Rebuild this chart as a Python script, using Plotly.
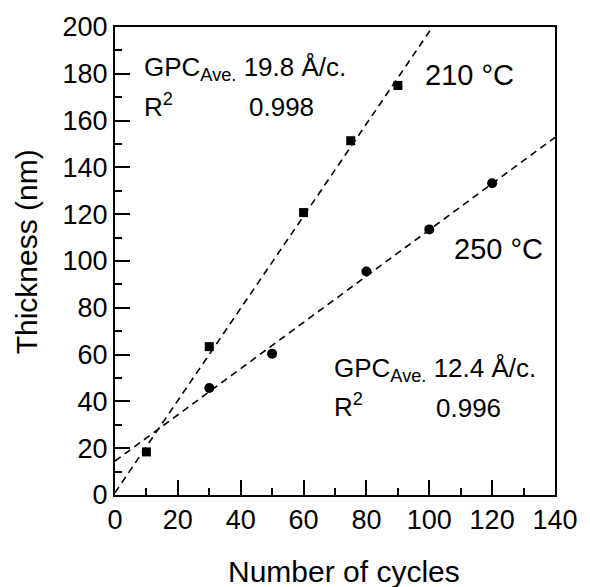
import plotly.graph_objects as go

# Data
cycles_210 = [10, 30, 60, 75, 90]
thick_210 = [18.4, 63.4, 120.7, 151.4, 175.0]
cycles_250 = [30, 50, 80, 100, 120]
thick_250 = [45.7, 60.4, 95.5, 113.5, 133.2]

# Linear fits (slope nm/cycle, intercept nm) as drawn
fit_210 = (1.97, 1.0)
fit_250 = (0.988, 14.5)
fit_x = [0, 140]

x_ticks = [0, 20, 40, 60, 80, 100, 120, 140]
y_ticks = [0, 20, 40, 60, 80, 100, 120, 140, 160, 180, 200]

FONT = "Liberation Sans, Arial, sans-serif"

fig = go.Figure()

for (m, b) in (fit_210, fit_250):
    fig.add_trace(go.Scatter(
        x=fit_x, y=[m * xx + b for xx in fit_x], mode="lines",
        line=dict(color="black", width=1.6, dash="7px,5px"),
        showlegend=False, hoverinfo="skip"))

fig.add_trace(go.Scatter(x=cycles_210, y=thick_210, mode="markers",
                         marker=dict(symbol="square", size=9, color="black"),
                         showlegend=False))
fig.add_trace(go.Scatter(x=cycles_250, y=thick_250, mode="markers",
                         marker=dict(symbol="circle", size=10, color="black"),
                         showlegend=False))

axis_common = dict(
    showline=True, linecolor="black", linewidth=2, mirror=True,
    ticks="inside", ticklen=15, tickwidth=2, tickcolor="black",
    showgrid=False, zeroline=False,
    tickfont=dict(family=FONT, size=27, color="black"),
    minor=dict(ticks="inside", ticklen=7, tickwidth=2, tickcolor="black", showgrid=False),
)

fig.update_xaxes(range=[0, 140], tickvals=x_ticks, minor_dtick=10, **axis_common)
fig.update_yaxes(range=[0, 200], tickvals=y_ticks, minor_dtick=10, **axis_common)

# paper coordinates from pixel positions (plot area x 115-564, y 24-495)
def px(xp):
    return (xp - 115) / 449
def py(yp):
    return (495 - yp) / 471

def ann(text, x, y, size, xanchor="left", angle=0):
    fig.add_annotation(text=text, x=x, y=y, xref="paper", yref="paper",
                       xanchor=xanchor, yanchor="middle", showarrow=False,
                       textangle=angle,
                       font=dict(family=FONT, size=size, color="black"))

# axis titles
ann("Number of cycles", px(349), py(572), 30, xanchor="center")
ann("Thickness (nm)", px(25), py(250), 30, xanchor="center", angle=-90)

ann("GPC<sub>Ave.</sub> 19.8 Å/c.", px(143), py(66), 26)
ann("R<sup>2</sup>", px(143), py(103), 26)
ann("0.998", px(250), py(105), 26)
ann("210 °C", px(429), py(72), 29)
ann("250 °C", px(459), py(247), 29)
ann("GPC<sub>Ave.</sub> 12.4 Å/c.", px(336), py(369), 26)
ann("R<sup>2</sup>", px(336), py(405), 26)
ann("0.996", px(441), py(407), 26)

fig.update_layout(
    width=590, height=587,
    margin=dict(l=115, r=26, t=24, b=92),
    paper_bgcolor="white", plot_bgcolor="white",
    font=dict(family=FONT, color="black"),
)

fig.write_html("out.html")
